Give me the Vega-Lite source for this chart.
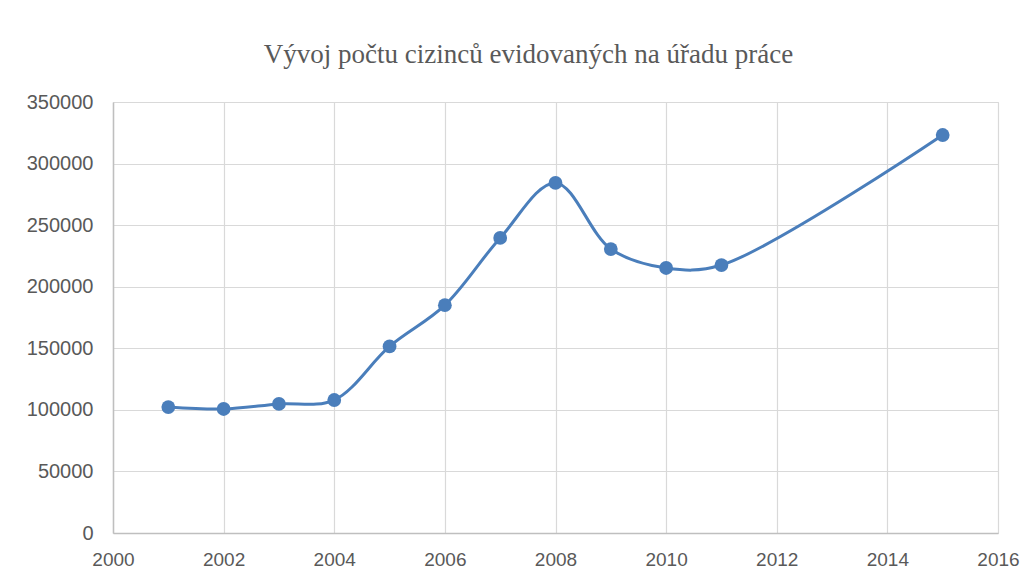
{
  "$schema": "https://vega.github.io/schema/vega-lite/v6.json",
  "width": 885,
  "height": 431,
  "autosize": "none",
  "padding": {"left": 113, "top": 102, "right": 38, "bottom": 55},
  "background": "white",
  "title": {
    "text": "Vývoj počtu cizinců evidovaných na úřadu práce",
    "font": "Liberation Serif",
    "fontSize": 27,
    "fontWeight": "normal",
    "color": "#595959",
    "anchor": "middle",
    "offset": 23,
    "dx": -27
  },
  "data": {
    "values": [
      {"rok": 2001, "pocet": 102300},
      {"rok": 2002, "pocet": 100700},
      {"rok": 2003, "pocet": 104800},
      {"rok": 2004, "pocet": 108000},
      {"rok": 2005, "pocet": 151500},
      {"rok": 2006, "pocet": 185000},
      {"rok": 2007, "pocet": 239600},
      {"rok": 2008, "pocet": 284300},
      {"rok": 2009, "pocet": 230600},
      {"rok": 2010, "pocet": 215200},
      {"rok": 2011, "pocet": 217600},
      {"rok": 2015, "pocet": 323200}
    ]
  },
  "encoding": {
    "x": {
      "field": "rok",
      "type": "quantitative",
      "scale": {"domain": [2000, 2016], "nice": false, "zero": false},
      "axis": {
        "title": null,
        "values": [2000, 2002, 2004, 2006, 2008, 2010, 2012, 2014, 2016],
        "format": "d",
        "ticks": false,
        "labelFlush": false,
        "labelOverlap": false,
        "labelPadding": 17,
        "labelFont": "Liberation Sans",
        "labelFontSize": 19,
        "labelColor": "#595959",
        "domainColor": "#bfbfbf",
        "domainWidth": 1.5,
        "gridColor": "#d9d9d9",
        "gridWidth": 1.2
      }
    },
    "y": {
      "field": "pocet",
      "type": "quantitative",
      "scale": {"domain": [0, 350000], "nice": false},
      "axis": {
        "title": null,
        "values": [0, 50000, 100000, 150000, 200000, 250000, 300000, 350000],
        "format": "d",
        "ticks": false,
        "labelFlush": false,
        "labelPadding": 20,
        "labelFont": "Liberation Sans",
        "labelFontSize": 20,
        "labelColor": "#595959",
        "domainColor": "#bfbfbf",
        "domainWidth": 1.5,
        "gridColor": "#d9d9d9",
        "gridWidth": 1.2
      }
    }
  },
  "layer": [
    {
      "mark": {"type": "line", "interpolate": "catmull-rom", "color": "#4a7ebb", "strokeWidth": 3}
    },
    {
      "mark": {"type": "point", "filled": true, "opacity": 1, "color": "#4a7ebb", "size": 190}
    }
  ],
  "config": {
    "view": {"stroke": "#d9d9d9"}
  }
}
